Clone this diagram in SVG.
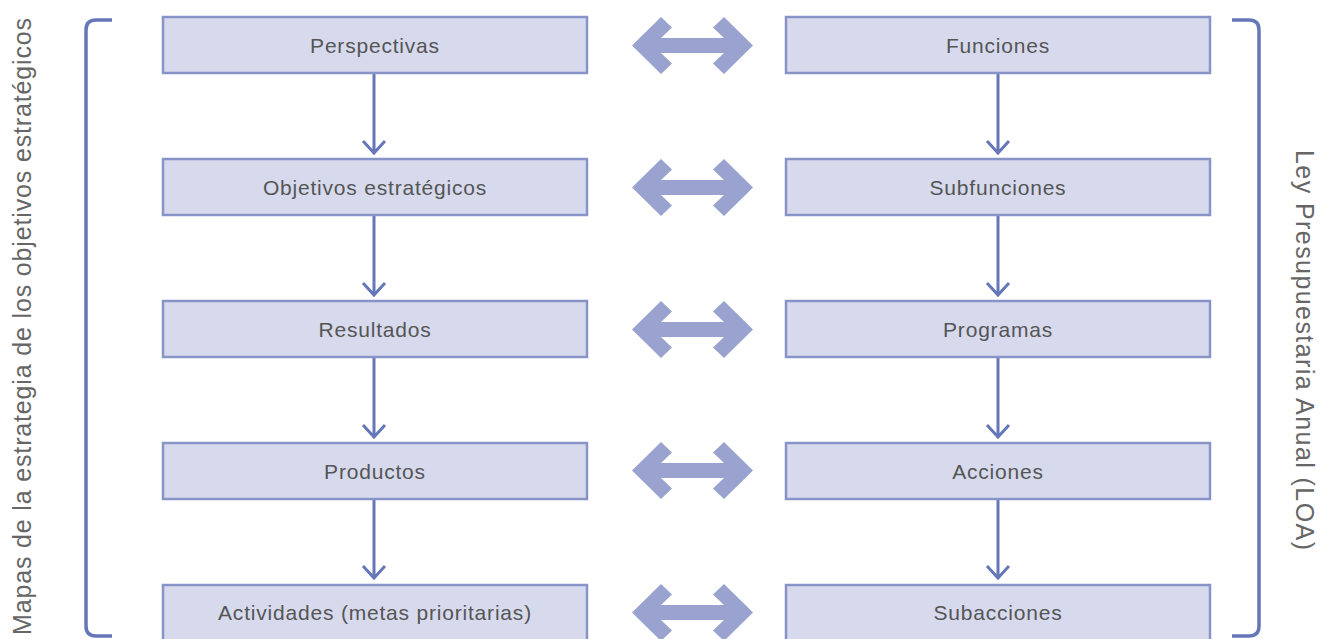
<svg xmlns="http://www.w3.org/2000/svg" width="1322" height="639" viewBox="0 0 1322 639">
<style>
.box{fill:#d7daed;stroke:#8894c8;stroke-width:2.5}
.lbl{font-family:"Liberation Sans",Arial,sans-serif;font-size:21px;letter-spacing:0.8px;fill:#555;text-anchor:middle;dominant-baseline:central}
.side{font-family:"Liberation Sans",Arial,sans-serif;font-size:25px;fill:#666;text-anchor:middle;dominant-baseline:central}
.brk{fill:none;stroke:#6677b8;stroke-width:3.5}
.v{fill:none;stroke:#6677b8;stroke-width:3}
.dbl{fill:#9aa3cf}
</style>
<defs>
<polygon id="dbl" class="dbl" points="632,45.5 661,17 672,27.5 661,38 724,38 713,27.5 724,17 753,45.5 724,74 713,63.5 724,53 661,53 672,63.5 661,74"/>
<path id="down" class="v" d="M374,73 V153 M363,141 L374,153 L385,141"/>
</defs>
<text class="side" transform="translate(22,326.5) rotate(-90)" textLength="617" lengthAdjust="spacing">Mapas de la estrategia de los objetivos estratégicos</text>
<text class="side" transform="translate(1305,350) rotate(90)" textLength="400" lengthAdjust="spacing">Ley Presupuestaria Anual (LOA)</text>
<path class="brk" d="M112,20 H96 Q86,20 86,30 V626 Q86,636 96,636 H112"/>
<path class="brk" d="M1232,20 H1249 Q1259,20 1259,30 V626 Q1259,636 1249,636 H1232"/>
<g id="connectors">
<use href="#down"/>
<use href="#down" transform="translate(0,142)"/>
<use href="#down" transform="translate(0,284)"/>
<use href="#down" transform="translate(0,425)"/>
<use href="#down" transform="translate(624,0)"/>
<use href="#down" transform="translate(624,142)"/>
<use href="#down" transform="translate(624,284)"/>
<use href="#down" transform="translate(624,425)"/>
<use href="#dbl"/>
<use href="#dbl" transform="translate(0,142)"/>
<use href="#dbl" transform="translate(0,284)"/>
<use href="#dbl" transform="translate(0,425)"/>
<use href="#dbl" transform="translate(0,567)"/>
</g>
<g id="n-perspectivas"><rect class="box" x="163" y="17" width="424" height="56"/><text class="lbl" x="375" y="45">Perspectivas</text></g>
<g id="n-objetivos"><rect class="box" x="163" y="159" width="424" height="56"/><text class="lbl" x="375" y="187">Objetivos estratégicos</text></g>
<g id="n-resultados"><rect class="box" x="163" y="301" width="424" height="56"/><text class="lbl" x="375" y="329">Resultados</text></g>
<g id="n-productos"><rect class="box" x="163" y="443" width="424" height="56"/><text class="lbl" x="375" y="471">Productos</text></g>
<g id="n-actividades"><rect class="box" x="163" y="585" width="424" height="60"/><text class="lbl" x="375" y="612">Actividades (metas prioritarias)</text></g>
<g id="n-funciones"><rect class="box" x="786" y="17" width="424" height="56"/><text class="lbl" x="998" y="45">Funciones</text></g>
<g id="n-subfunciones"><rect class="box" x="786" y="159" width="424" height="56"/><text class="lbl" x="998" y="187">Subfunciones</text></g>
<g id="n-programas"><rect class="box" x="786" y="301" width="424" height="56"/><text class="lbl" x="998" y="329">Programas</text></g>
<g id="n-acciones"><rect class="box" x="786" y="443" width="424" height="56"/><text class="lbl" x="998" y="471">Acciones</text></g>
<g id="n-subacciones"><rect class="box" x="786" y="585" width="424" height="60"/><text class="lbl" x="998" y="612">Subacciones</text></g>
</svg>
